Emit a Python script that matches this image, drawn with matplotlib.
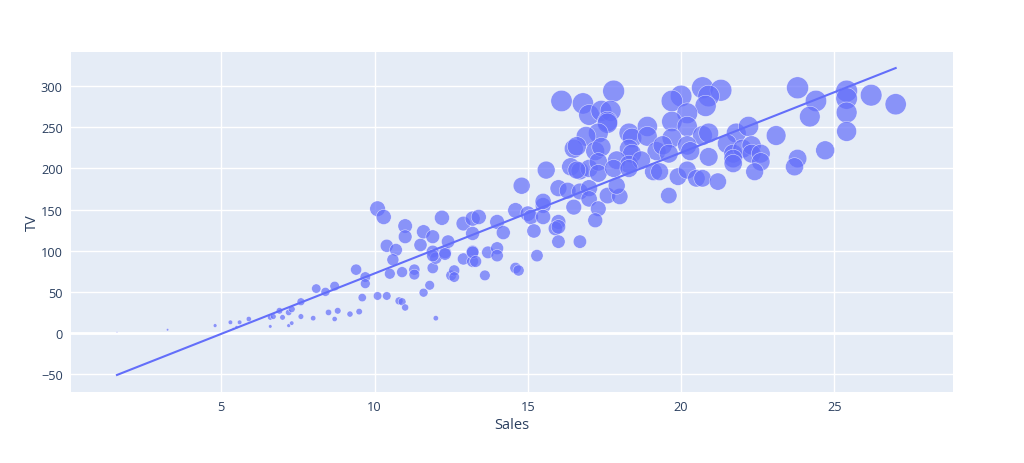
import matplotlib.pyplot as plt
import numpy as np

plt.rcParams['font.family'] = ['Open Sans', 'DejaVu Sans']

## --- data (Sales vs TV, bubble size = TV) ---
sales = [1.6, 3.25, 4.8, 5.3, 5.6, 5.9, 5.4, 5.5, 6.6, 6.7, 6.6, 7.0, 6.9, 7.2, 7.3, 7.2, 7.3,
         7.6, 7.6, 8.0, 8.1, 8.5, 8.4, 8.7, 8.7, 8.8, 9.2, 9.5, 9.4, 9.7, 9.7, 9.6,
         10.1, 10.3, 10.1, 10.4, 10.4, 10.5, 10.7, 10.6, 10.9, 10.8, 10.9, 11.0, 11.0, 11.0,
         11.3, 11.3, 11.5, 11.6, 11.6, 11.8, 11.9, 11.9, 11.9, 12.0, 12.0, 12.2, 12.3, 12.4,
         12.5, 12.6, 12.9, 12.9, 13.2, 13.2, 13.2, 14.8, 15.6, 13.4, 14.0, 14.2, 13.2, 14.6,
         15.0, 15.1, 15.5, 15.5, 15.2, 16.0, 15.9, 16.0, 12.3, 11.9, 12.6, 13.2, 13.3, 13.6,
         13.7, 14.0, 14.0, 14.6, 14.7, 15.3,
         17.8, 16.1, 16.8, 17.0, 17.4, 17.7, 17.6, 17.6, 17.3, 16.9, 18.3, 18.4, 18.9, 18.9,
         19.2, 16.5, 16.6, 17.2, 17.4, 18.3, 18.4, 17.9, 18.3, 18.7, 16.4, 16.7, 17.0, 17.3,
         16.6, 17.3, 17.8, 18.3, 19.1, 16.0, 16.3, 16.7, 17.0, 17.0, 17.6, 18.0, 17.9, 15.5,
         16.5, 17.3, 17.2, 16.0, 16.7,
         20.7, 21.3, 20.9, 20.0, 19.7, 20.8, 20.2, 19.7, 20.2, 20.7, 20.9, 21.8, 22.2, 23.1,
         19.7, 19.4, 20.2, 20.3, 19.6, 20.9, 21.5, 21.7, 22.0, 22.3, 22.3, 22.6, 22.6, 21.7,
         19.6, 19.3, 19.9, 20.2, 20.5, 20.7, 21.2, 22.4, 21.7,
         23.8, 24.4, 24.2, 25.4, 25.4, 25.4, 26.2, 27.0, 25.4, 24.7, 23.8, 23.7]
tv = [1, 4, 9, 13, 13, 17, 5, 7, 19, 20, 8, 19, 27, 25, 29, 9, 12,
      20, 38, 18, 54, 25, 50, 57, 17, 27, 23, 26, 77, 68, 60, 43,
      151, 141, 45, 45, 106, 72, 101, 89, 74, 39, 38, 31, 130, 117,
      77, 71, 107, 49, 123, 58, 117, 99, 79, 18, 91, 140, 98, 111,
      70, 76, 90, 133, 99, 87, 139, 179, 198, 141, 135, 122, 121, 149,
      145, 141, 155, 141, 124, 135, 127, 111, 96, 94, 68, 98, 87, 70,
      98, 103, 94, 79, 76, 94,
      294, 282, 279, 265, 270, 270, 257, 255, 243, 239, 243, 237, 251, 239,
      221, 224, 227, 221, 226, 224, 218, 210, 205, 210, 202, 197, 200, 208,
      198, 194, 200, 200, 196, 176, 173, 172, 176, 163, 167, 166, 179, 160,
      153, 151, 137, 129, 111,
      298, 295, 288, 288, 282, 276, 267, 257, 251, 240, 243, 243, 251, 240,
      237, 228, 228, 221, 218, 214, 230, 218, 224, 228, 218, 218, 208, 212,
      167, 196, 190, 198, 188, 188, 184, 196, 206,
      298, 282, 263, 294, 285, 268, 289, 278, 245, 222, 212, 202]

## OLS trendline end points
trend_x = [1.6, 27.0]
trend_y = [-51, 322]

xticks = [5, 10, 15, 20, 25]
yticks = [-50, 0, 50, 100, 150, 200, 250, 300]

## --- style ---
cl = '#636efa'; bg = '#E5ECF6'; txt = '#2a3f5f'
size_max = 22  # px diameter of biggest bubble

fig = plt.figure(figsize=(10.24, 4.64), dpi=100)
ax = fig.add_axes([71/1024, 1-393/464, (953-71)/1024, (393-53)/464])
ax.set_facecolor(bg)

tv_arr = np.array(tv, dtype=float)
d_px = size_max*np.sqrt(tv_arr/tv_arr.max())
s = (d_px*0.72)**2
ax.scatter(sales, tv, s=s, color=cl, alpha=0.7, edgecolors='white', linewidths=0.4, zorder=3)
ax.plot(trend_x, trend_y, color=cl, linewidth=1.5, zorder=4)

ax.set_xlim(0.1, 28.87)
ax.set_ylim(-71.7, 341.5)
ax.set_xticks(xticks)
ax.set_yticks(yticks)
ax.grid(True, color='white', linewidth=1)
ax.axhline(0, color='white', linewidth=2, zorder=1)
ax.set_axisbelow(True)
for sp in ax.spines.values():
    sp.set_visible(False)
ax.tick_params(length=0, labelsize=9.2, labelcolor=txt, pad=6)
ax.set_xlabel('Sales', fontsize=10.5, color=txt, labelpad=3)
ax.set_ylabel('TV', fontsize=10.5, color=txt, labelpad=1)

fig.savefig('out.png', dpi=100)
